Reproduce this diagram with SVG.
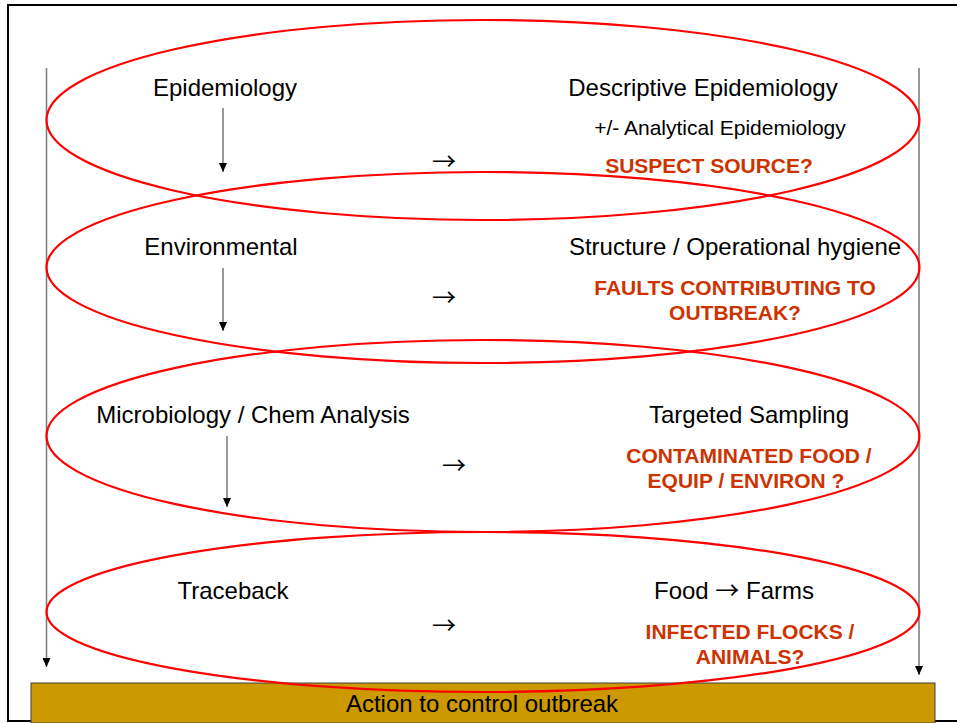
<svg xmlns="http://www.w3.org/2000/svg" width="957" height="723" viewBox="0 0 957 723">
  <style>
    .t { font-family: "Liberation Sans", Arial, sans-serif; font-size: 24px; fill: #000; text-anchor: middle; }
    .s { font-size: 21px; }
    .a { font-family: "Noto Sans CJK SC", "DejaVu Sans", sans-serif; }
    .q { font-family: "Liberation Sans", Arial, sans-serif; font-size: 21px; font-weight: bold; fill: #cc3300; text-anchor: middle; }
    .ring { fill: none; stroke: #ff0000; stroke-width: 2.2; }
    .flow { stroke: #808080; stroke-width: 1.6; fill: none; marker-end: url(#tip); }
  </style>
  <defs>
    <marker id="tip" viewBox="0 0 9 8" refX="9" refY="4" markerWidth="9" markerHeight="8" markerUnits="userSpaceOnUse" orient="auto">
      <path d="M0,0 L9,4 L0,8 Z" fill="#000"/>
    </marker>
  </defs>

  <rect x="8" y="5" width="960" height="716" fill="#fff" stroke="#000" stroke-width="2"/>

  <!-- connectors -->
  <g id="connectors">
    <path class="flow" d="M46.5,68 V667"/>
    <path class="flow" d="M919,68 V675"/>
    <path class="flow" d="M223,108 V172"/>
    <path class="flow" d="M223,268 V331"/>
    <path class="flow" d="M227,436 V507"/>
    <text class="t a" x="444" y="170">→</text>
    <text class="t a" x="444" y="306">→</text>
    <text class="t a" x="454" y="474">→</text>
    <text class="t a" x="444" y="634">→</text>
  </g>

  <g id="action">
    <rect x="31" y="683" width="904" height="40" fill="#cc9900" stroke="#404040" stroke-width="1"/>
    <text class="t" x="482" y="712">Action to control outbreak</text>
  </g>

  <g id="epidemiology">
    <text class="t" x="225" y="96">Epidemiology</text>
    <text class="t" x="703" y="96">Descriptive Epidemiology</text>
    <text class="t s" x="720" y="135">+/- Analytical Epidemiology</text>
    <text class="q" x="709" y="173">SUSPECT SOURCE?</text>
  </g>

  <g id="environmental">
    <text class="t" x="221" y="255">Environmental</text>
    <text class="t" x="735" y="255">Structure / Operational hygiene</text>
    <text class="q" x="735" y="295">FAULTS CONTRIBUTING TO</text>
    <text class="q" x="735" y="320">OUTBREAK?</text>
  </g>

  <g id="microbiology">
    <text class="t" x="253" y="423">Microbiology / Chem Analysis</text>
    <text class="t" x="749" y="423">Targeted Sampling</text>
    <text class="q" x="749" y="463">CONTAMINATED FOOD /</text>
    <text class="q" x="746" y="488">EQUIP / ENVIRON ?</text>
  </g>

  <g id="traceback">
    <text class="t" x="233" y="599">Traceback</text>
    <text class="t" x="734" y="599">Food <tspan class="a">→</tspan> Farms</text>
    <text class="q" x="750" y="639">INFECTED FLOCKS /</text>
    <text class="q" x="750" y="664">ANIMALS?</text>
  </g>

  <!-- red outlines grouping each stage -->
  <g id="rings">
    <ellipse class="ring" cx="483" cy="120" rx="436.5" ry="100"/>
    <ellipse class="ring" cx="483" cy="267.5" rx="436.5" ry="95.5"/>
    <ellipse class="ring" cx="483" cy="436" rx="436.5" ry="96"/>
    <ellipse class="ring" cx="483" cy="612" rx="436.5" ry="80"/>
  </g>
</svg>
